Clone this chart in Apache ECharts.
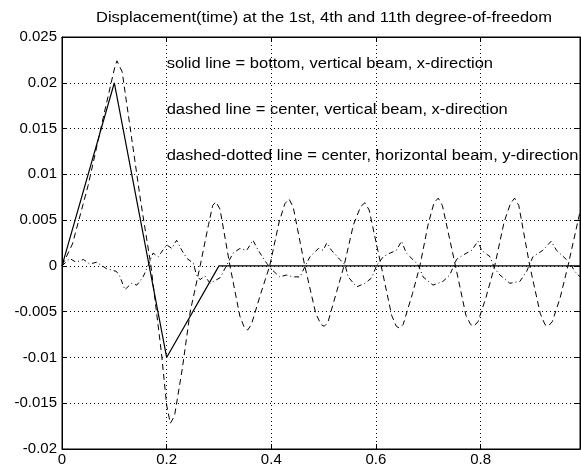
<!DOCTYPE html>
<html>
<head>
<meta charset="utf-8">
<script src="https://cdn.jsdelivr.net/npm/echarts@6/dist/echarts.min.js"></script>
<style>html,body{margin:0;padding:0;background:#fff;}#c{width:581px;height:468px;}</style>
</head>
<body>
<div id="c"></div>
<script>
// ---- data ----
var titleText = 'Displacement(time) at the 1st, 4th and 11th degree-of-freedom';
var xTicks = [0, 0.2, 0.4, 0.6, 0.8];
var yTicks = [-0.02, -0.015, -0.01, -0.005, 0, 0.005, 0.01, 0.015, 0.02, 0.025];

var solidT = [0, 0.1, 0.2, 0.3, 0.99];
var solidY = [0, 0.02, -0.01, 0, 0];

var dashedT = [0, 0.02, 0.05, 0.08, 0.1, 0.105, 0.115, 0.13, 0.15, 0.17, 0.19, 0.2, 0.207, 0.215, 0.23, 0.245, 0.264, 0.28, 0.288, 0.294, 0.302, 0.321, 0.34, 0.349, 0.355, 0.362, 0.38, 0.397, 0.415, 0.426, 0.434, 0.442, 0.464, 0.485, 0.495, 0.501, 0.508, 0.525, 0.539, 0.557, 0.571, 0.579, 0.587, 0.61, 0.63, 0.639, 0.645, 0.652, 0.67, 0.684, 0.7, 0.711, 0.719, 0.727, 0.752, 0.772, 0.781, 0.787, 0.795, 0.81, 0.827, 0.845, 0.857, 0.865, 0.873, 0.894, 0.914, 0.923, 0.929, 0.937, 0.952, 0.967, 0.99];
var dashedY = [0, 0.0024, 0.0088, 0.0165, 0.0215, 0.0224, 0.0212, 0.0152, 0.0072, 0.0, -0.0095, -0.0152, -0.0172, -0.0164, -0.0112, -0.005, 0.0, 0.0045, 0.0066, 0.0070, 0.0062, 0.0, -0.0055, -0.0068, -0.0070, -0.0064, -0.003, 0.0, 0.0048, 0.0068, 0.0073, 0.0064, 0.0, -0.0052, -0.0064, -0.0066, -0.0062, -0.0028, 0.0, 0.0045, 0.0065, 0.0069, 0.0061, 0.0, -0.0054, -0.0066, -0.0068, -0.0064, -0.003, 0.0, 0.0046, 0.0069, 0.0074, 0.0066, 0.0, -0.0054, -0.0064, -0.0066, -0.0061, -0.0035, 0.0, 0.0048, 0.0068, 0.0074, 0.0066, 0.0, -0.0052, -0.0064, -0.0066, -0.0061, -0.0035, 0.0, 0.0059];

var dashDotT = [0, 0.015, 0.027, 0.041, 0.053, 0.066, 0.085, 0.104, 0.111, 0.120, 0.133, 0.143, 0.155, 0.165, 0.174, 0.184, 0.200, 0.210, 0.219, 0.229, 0.239, 0.251, 0.257, 0.264, 0.273, 0.283, 0.302, 0.315, 0.327, 0.340, 0.353, 0.365, 0.375, 0.391, 0.401, 0.416, 0.429, 0.442, 0.455, 0.464, 0.474, 0.490, 0.499, 0.506, 0.515, 0.531, 0.541, 0.547, 0.563, 0.579, 0.592, 0.601, 0.614, 0.627, 0.639, 0.649, 0.658, 0.681, 0.690, 0.709, 0.728, 0.741, 0.754, 0.767, 0.783, 0.795, 0.802, 0.818, 0.827, 0.837, 0.856, 0.875, 0.888, 0.900, 0.919, 0.935, 0.945, 0.964, 0.974, 0.980, 0.99];
var dashDotY = [0, 0.0008, 0.0004, 0.0007, 0.0002, 0.0004, -0.0003, -0.0006, -0.0012, -0.0026, -0.0019, -0.0021, -0.0012, 0.0001, 0.0014, 0.0010, 0.0023, 0.0019, 0.0028, 0.0017, 0.0008, 0.0003, -0.0010, -0.0015, -0.0011, -0.0019, -0.0013, 0.0001, 0.0014, 0.0019, 0.0017, 0.0028, 0.0017, 0.0003, -0.0004, -0.0012, -0.0010, -0.0012, -0.0012, -0.0001, 0.0010, 0.0019, 0.0017, 0.0025, 0.0017, 0.0007, 0.0001, -0.0012, -0.0023, -0.0019, -0.0013, 0.0000, 0.0010, 0.0014, 0.0017, 0.0027, 0.0014, 0.0001, -0.0012, -0.0021, -0.0017, -0.0010, 0.0007, 0.0012, 0.0017, 0.0027, 0.0017, 0.0010, -0.0003, -0.0010, -0.0019, -0.0017, -0.0006, 0.0010, 0.0017, 0.0027, 0.0017, 0.0007, 0.0000, -0.0006, -0.0012];

var noteTexts = ['solid line = bottom, vertical beam, x-direction',
                 'dashed line = center, vertical beam, x-direction',
                 'dashed-dotted line = center, horizontal beam, y-direction'];
var noteX = [0.2, 0.2, 0.2];
var noteY = [0.022, 0.017, 0.012];

// ---- build ----
function zip(a, b) { return a.map(function (v, i) { return [v, b[i]]; }); }
var FONT_FAMILY = 'Liberation Sans, Arial, Helvetica, sans-serif';
var STRETCH = 1.18;

var chart = echarts.init(document.getElementById('c'), null, { renderer: 'canvas' });
var gridLine = { show: true, lineStyle: { color: '#000', type: [1, 3], width: 1 } };
var xFmt = function (v) { return xTicks.some(function (t) { return Math.abs(t - v) < 1e-9; }) ? String(+v.toFixed(4)) : ''; };
var yFmt = function (v) { return String(+v.toFixed(4)); };

chart.setOption({
  animation: false,
  backgroundColor: '#fff',
  grid: { left: 62, right: 1, top: 37, bottom: 19, show: true, borderColor: '#000', borderWidth: 1 },
  xAxis: [{
    type: 'value', min: 0, max: 0.99, interval: 0.2,
    axisLine: { show: true, onZero: false, lineStyle: { color: '#000', width: 1 } },
    axisTick: { show: true, inside: true, length: 5, lineStyle: { color: '#000' } },
    axisLabel: { color: '#000', fontFamily: FONT_FAMILY, fontSize: 15, margin: 3, formatter: xFmt, showMaxLabel: false },
    splitLine: gridLine
  }, {
    type: 'value', min: 0, max: 0.99, interval: 0.2, position: 'top',
    axisLine: { show: true, onZero: false, lineStyle: { color: '#000', width: 1 } },
    axisTick: { show: true, inside: true, length: 5, lineStyle: { color: '#000' } },
    axisLabel: { show: false }, splitLine: { show: false }
  }],
  yAxis: [{
    type: 'value', min: -0.02, max: 0.025, interval: 0.005,
    axisLine: { show: true, onZero: false, lineStyle: { color: '#000', width: 1 } },
    axisTick: { show: true, inside: true, length: 5, lineStyle: { color: '#000' } },
    axisLabel: { color: '#000', fontFamily: FONT_FAMILY, fontSize: 15, margin: 5, formatter: yFmt },
    splitLine: gridLine
  }, {
    type: 'value', min: -0.02, max: 0.025, interval: 0.005, position: 'right',
    axisLine: { show: true, onZero: false, lineStyle: { color: '#000', width: 1 } },
    axisTick: { show: true, inside: true, length: 5, lineStyle: { color: '#000' } },
    axisLabel: { show: false }, splitLine: { show: false }
  }],
  series: [{
    type: 'line', data: zip(solidT, solidY), showSymbol: false, symbol: 'none',
    lineStyle: { color: '#000', width: 1.2, type: 'solid' }, z: 5
  }, {
    type: 'line', data: zip(dashedT, dashedY), showSymbol: false, symbol: 'none',
    lineStyle: { color: '#000', width: 1, type: [6, 4] }, z: 5
  }, {
    type: 'line', data: zip(dashDotT, dashDotY), showSymbol: false, symbol: 'none',
    lineStyle: { color: '#000', width: 1, type: [5, 3, 1, 3] }, z: 5
  }]
});

// Title and annotations as real text, slightly widened to match the reference's type
var graphics = [{
  type: 'text', x: 324, y: 18, scaleX: STRETCH, z: 10,
  style: { text: titleText, fill: '#000', font: '14px ' + FONT_FAMILY, textAlign: 'center', textVerticalAlign: 'middle' }
}];
noteTexts.forEach(function (t, i) {
  var p = chart.convertToPixel({ gridIndex: 0 }, [noteX[i], noteY[i]]);
  graphics.push({
    type: 'text', x: p[0], y: p[1], scaleX: STRETCH, z: 10,
    style: { text: t, fill: '#000', font: '14px ' + FONT_FAMILY, textAlign: 'left', textVerticalAlign: 'middle' }
  });
});
chart.setOption({ graphic: graphics });
</script>
</body>
</html>
